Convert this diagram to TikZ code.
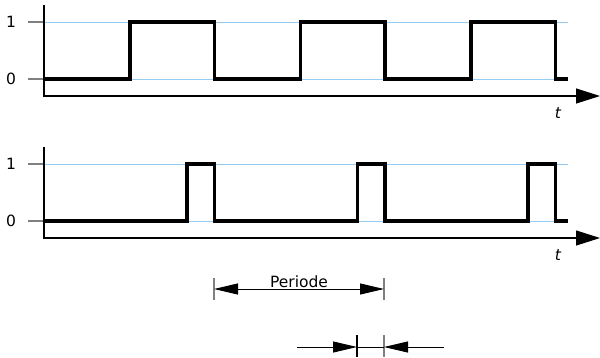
\documentclass[tikz,border=0pt]{standalone}
\usepackage{fontspec}
\setmainfont{DejaVu Sans}
\usepackage{tikz}
\usetikzlibrary{arrows.meta,positioning,calc}

\definecolor{levelblue}{RGB}{150,205,245}

\begin{document}
\begin{tikzpicture}[x=1pt,y=-1pt,font=\fontsize{15.5}{18}\selectfont,
   axis/.style={line width=1.2pt,-{Triangle[length=24pt,width=15pt]}},
   level/.style={levelblue,line width=1pt},
   tick/.style={gray,line width=1.2pt},
   signal/.style={line width=3.2pt,line join=miter},
   dim/.style={line width=1pt,-{Triangle[length=24pt,width=11pt]}},
   bar/.style={gray,line width=1.2pt}]
  \useasboundingbox (0,0) rectangle (600,357);
  % top: square wave
  \draw[level] (44,22) -- (568,22) (44,79) -- (568,79);
  \draw[tick] (28,22) -- (44,22) (28,79) -- (44,79);
  \node (one1) at (11,22) {1};
  \node (zero1) at (11,79) {0};
  \draw[axis] (44,5) -- (44,96) -- (600,96);
  \node (t1) at (558,113) {\itshape t};
  \draw[signal] (44,79)
    \foreach \k in {0,1,2} {
      -- ({130+170.5*\k},79) -- ({130+170.5*\k},22)
      -- ({214.5+170.5*\k},22) -- ({214.5+170.5*\k},79)}
    -- (568,79);
  % bottom: short pulses
  \draw[level] (44,164) -- (568,164) (44,221) -- (568,221);
  \draw[tick] (28,164) -- (44,164) (28,221) -- (44,221);
  \node (one2) at (11,164) {1};
  \node (zero2) at (11,221) {0};
  \draw[axis] (44,147) -- (44,238) -- (600,238);
  \node (t2) at (558,255) {\itshape t};
  \draw[signal] (44,221)
    \foreach \k in {0,1,2} {
      -- ({187+170.5*\k},221) -- ({187+170.5*\k},164)
      -- ({214.5+170.5*\k},164) -- ({214.5+170.5*\k},221)}
    -- (568,221);
  % period
  \coordinate (pa) at (214,289);
  \coordinate (pb) at (384,289);
  \draw[bar] (214,278) -- (214,300) (384,278) -- (384,300);
  \draw[dim] ($(pa)!0.5!(pb)$) -- (pa);
  \draw[dim] ($(pa)!0.5!(pb)$) -- (pb);
  \node[above=-2pt of $(pa)!0.5!(pb)$] (per) {Periode};
  % pulse width
  \coordinate (wa) at (357,347);
  \coordinate (wb) at (384,347);
  \coordinate (wl) at (297,347);
  \coordinate (wr) at (444,347);
  \draw[line width=1.2pt] (357,335) -- (357,357);
  \draw[bar] (384,335) -- (384,357);
  \draw[line width=1pt] (wa) -- (wb);
  \draw[dim] (wl) -- (wa);
  \draw[dim] (wr) -- (wb);
\end{tikzpicture}
\end{document}
